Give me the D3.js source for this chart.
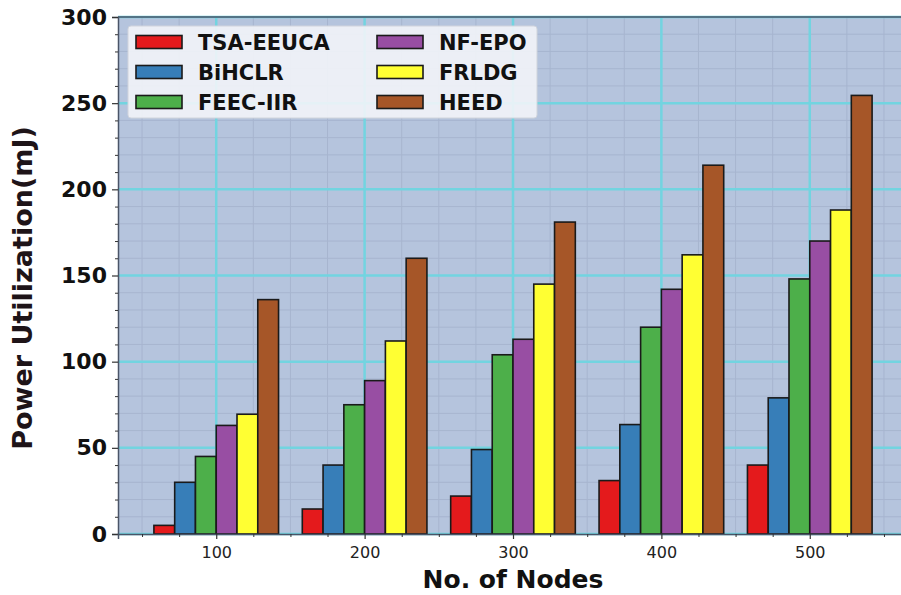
<!DOCTYPE html>
<html>
<head>
<meta charset="utf-8">
<script src="https://cdn.jsdelivr.net/npm/d3@7/dist/d3.min.js"></script>
<style>
  html, body { margin: 0; padding: 0; background: #ffffff; }
  svg { display: block; }
</style>
</head>
<body>
<svg id="chart" width="901" height="595"></svg>
<script>
// ---- data ----
const nodes = [100, 200, 300, 400, 500];
const seriesNames = ["TSA-EEUCA", "BiHCLR", "FEEC-IIR", "NF-EPO", "FRLDG", "HEED"];
const tsaEeuca = [5, 14.5, 22, 31, 40];
const bihclr   = [30, 40, 49, 63.5, 79];
const feecIir  = [45, 75, 104, 120, 148];
const nfEpo    = [63, 89, 113, 142, 170];
const frldg    = [69.5, 112, 145, 162, 188];
const heed     = [136, 160, 181, 214, 254.5];
const yTicks = [0, 50, 100, 150, 200, 250, 300];
const xTicks = [100, 200, 300, 400, 500];

const seriesValues = [tsaEeuca, bihclr, feecIir, nfEpo, frldg, heed];
const colors = ["#e41a1c", "#377eb8", "#4daf4a", "#984ea3", "#ffff33", "#a65628"];

// ---- layout ----
const svg = d3.select("#chart");
const L = 118, T = 17, B = 534, R = 908;
const barW = 14;

const x = d3.scaleLinear().domain([33.8, 566.2]).range([L, R]);
const y = d3.scaleLinear().domain([0, 300]).range([B, T]);

// background
svg.append("rect").attr("x", L).attr("y", T).attr("width", R - L).attr("height", B - T)
  .attr("fill", "#b5c4dd");

const gridG = svg.append("g");
// minor grid
d3.range(0, 301, 10).filter(v => v % 50 !== 0).forEach(v => {
  gridG.append("line").attr("x1", L).attr("x2", R).attr("y1", y(v)).attr("y2", y(v))
    .attr("stroke", "#a7b5cf").attr("stroke-width", 1);
});
d3.range(50, 560, 25).filter(v => v % 100 !== 0).forEach(v => {
  gridG.append("line").attr("y1", T).attr("y2", B).attr("x1", x(v)).attr("x2", x(v))
    .attr("stroke", "#a7b5cf").attr("stroke-width", 1);
});
// major grid
yTicks.forEach(v => {
  gridG.append("line").attr("x1", L).attr("x2", R).attr("y1", y(v)).attr("y2", y(v))
    .attr("stroke", "#72d4e0").attr("stroke-width", 2.5);
});
xTicks.forEach(v => {
  gridG.append("line").attr("y1", T).attr("y2", B).attr("x1", x(v)).attr("x2", x(v))
    .attr("stroke", "#72d4e0").attr("stroke-width", 2.5);
});

// bars
seriesValues.forEach((vals, i) => {
  svg.append("g").selectAll("rect").data(nodes).join("rect")
    .attr("x", (n) => x(n + (i - 2.5) * barW - barW / 2))
    .attr("width", (n) => x(n + barW / 2) - x(n - barW / 2))
    .attr("y", (n, j) => y(vals[j]))
    .attr("height", (n, j) => y(0) - y(vals[j]))
    .attr("fill", colors[i])
    .attr("stroke", "#1a1a1a")
    .attr("stroke-width", 1.6);
});

// axes
const yAxis = d3.axisLeft(y).tickValues(yTicks).tickSize(6).tickPadding(5).tickFormat(d3.format("d"));
const yG = svg.append("g").attr("transform", `translate(${L},0)`).call(yAxis);
yG.select(".domain").attr("stroke", "#4a5468").attr("stroke-width", 1.5);
yG.selectAll(".tick line").attr("stroke", "#333").attr("stroke-width", 1.2);
yG.selectAll(".tick text").attr("font-family", "DejaVu Sans").attr("font-weight", "bold")
  .attr("font-size", 22).attr("fill", "#111");

const yMinor = d3.axisLeft(y).tickValues(d3.range(0, 301, 10).filter(v => v % 50 !== 0)).tickSize(3).tickFormat("");
const yMG = svg.append("g").attr("transform", `translate(${L},0)`).call(yMinor);
yMG.select(".domain").remove();
yMG.selectAll(".tick line").attr("stroke", "#333");

const xAxis = d3.axisBottom(x).tickValues(xTicks).tickSize(5).tickPadding(8).tickFormat(d3.format("d"));
const xG = svg.append("g").attr("transform", `translate(0,${B})`).call(xAxis);
xG.select(".domain").attr("stroke", "#4a5468").attr("stroke-width", 1.5);
xG.selectAll(".tick line").attr("stroke", "#333").attr("stroke-width", 1.2);
xG.selectAll(".tick text").attr("font-family", "DejaVu Sans").attr("font-size", 16).attr("fill", "#222");

const xMinor = d3.axisBottom(x).tickValues(d3.range(50, 560, 25).filter(v => v % 100 !== 0)).tickSize(3).tickFormat("");
const xMG = svg.append("g").attr("transform", `translate(0,${B})`).call(xMinor);
xMG.select(".domain").remove();
xMG.selectAll(".tick line").attr("stroke", "#333");

// top spine
svg.append("line").attr("x1", L).attr("x2", R).attr("y1", T).attr("y2", T)
  .attr("stroke", "#4a5468").attr("stroke-width", 1.5);

// axis labels
svg.append("text").attr("x", 513).attr("y", 588).attr("text-anchor", "middle")
  .attr("font-family", "DejaVu Sans").attr("font-weight", "bold").attr("font-size", 25)
  .attr("fill", "#111").text("No. of Nodes");
svg.append("text").attr("transform", "translate(32,288) rotate(-90)").attr("text-anchor", "middle")
  .attr("font-family", "DejaVu Sans").attr("font-weight", "bold").attr("font-size", 27)
  .attr("fill", "#1e1418").text("Power Utilization(mJ)");

// legend
const lg = svg.append("g");
lg.append("rect").attr("x", 128).attr("y", 26).attr("width", 409).attr("height", 92)
  .attr("rx", 3).attr("fill", "#f2f4f8").attr("fill-opacity", 0.9).attr("stroke", "#d0d4dc");
seriesNames.forEach((name, i) => {
  const col = Math.floor(i / 3), row = i % 3;
  const px = col === 0 ? 136 : 377;
  const cy = 42 + row * 30;
  lg.append("rect").attr("x", px).attr("y", cy - 6.5).attr("width", 46).attr("height", 13)
    .attr("fill", colors[i]).attr("stroke", "#1a1a1a").attr("stroke-width", 1.6);
  lg.append("text").attr("x", px + 62).attr("y", cy + 7.5)
    .attr("font-family", "DejaVu Sans").attr("font-weight", "bold").attr("font-size", 21)
    .attr("fill", "#111").text(name);
});
</script>
</body>
</html>
